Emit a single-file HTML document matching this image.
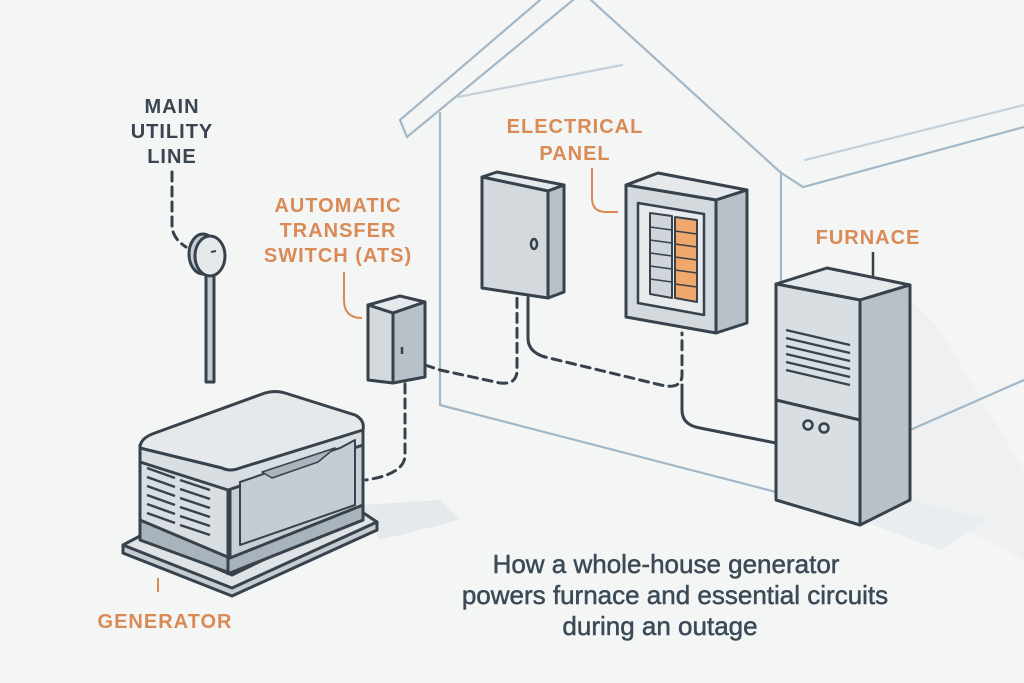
<!DOCTYPE html>
<html><head><meta charset="utf-8"><style>
html,body{margin:0;padding:0;background:#f4f5f5}
svg{display:block}
text{font-family:"Liberation Sans",sans-serif;font-weight:bold}
</style></head><body>
<svg width="1024" height="683" viewBox="0 0 1024 683" xmlns="http://www.w3.org/2000/svg">
<rect width="1024" height="683" fill="#f4f5f5"/>
<!-- shadows -->
<polygon points="360,505 440,500 460,520 380,540" fill="#e6e9ec"/>
<polygon points="910,300 940,330 1024,470 1024,560 910,500" fill="#eef0f1"/>
<polygon points="860,520 910,500 990,520 940,550" fill="#eaedef"/>
<!-- house -->
<g stroke="#a3b8c7" stroke-width="2.2" fill="none" stroke-linecap="round">
<polyline points="400,120 540,0"/>
<polyline points="400,120 407,137 573,0"/>
<polyline points="591,0 780,172 803,187 1024,127"/>
<line x1="805" y1="160" x2="1024" y2="105" stroke="#c3d1db"/>
<line x1="458" y1="97" x2="622" y2="65" stroke="#c3d1db"/>
<line x1="440" y1="113" x2="440" y2="405"/>
<line x1="440" y1="405" x2="776" y2="492"/>
<line x1="781" y1="172" x2="781" y2="282"/>
<line x1="910" y1="430" x2="1024" y2="380"/>
</g>
<!-- labels -->
<g fill="#3a4550" font-size="20" text-anchor="middle" letter-spacing="1">
<text x="172" y="113">MAIN</text><text x="172" y="138">UTILITY</text><text x="172" y="163">LINE</text>
</g>
<g fill="#d98a55" font-size="20" text-anchor="middle" letter-spacing="1">
<text x="338" y="212">AUTOMATIC</text><text x="338" y="237">TRANSFER</text><text x="338" y="262">SWITCH (ATS)</text>
<text x="575" y="133">ELECTRICAL</text><text x="575" y="160">PANEL</text>
<text x="868" y="244">FURNACE</text>
<text x="165" y="628">GENERATOR</text>
</g>
<g fill="#3b4a56" font-size="26" text-anchor="middle" stroke="#3b4a56" stroke-width="0.5">
<text x="666" y="573" style="font-weight:normal">How a whole-house generator</text>
<text x="675" y="604" style="font-weight:normal">powers furnace and essential circuits</text>
<text x="660" y="635" style="font-weight:normal">during an outage</text>
</g>
<!-- orange leaders -->
<g stroke="#d98a55" stroke-width="2" fill="none">
<path d="M344,272 V300 Q344,318 362,318"/>
<path d="M592,168 V198 Q592,212 606,212 H618"/>
<line x1="158" y1="578" x2="158" y2="592"/>
</g>
<line x1="873" y1="252" x2="873" y2="276" stroke="#37424c" stroke-width="2.5"/>
<!-- wires -->
<g stroke="#37424c" stroke-width="3" fill="none" stroke-linecap="round">
<path d="M172,172 V225 Q172,238 186,247" stroke-dasharray="9,6"/>
<path d="M405,384 V455 Q405,474 366,480" stroke-dasharray="9,6"/>
<path d="M425,365 L440,370 L500,383 Q517,385 517,370 V298" stroke-dasharray="9,6"/>
<path d="M528,298 V338 Q528,352 545,357 L665,386 Q682,388 682,375 V333" stroke-dasharray="9,6"/>
<path d="M528,298 V338 Q528,352 545,357" />
<path d="M682,385 V410 Q682,425 700,428 L776,443"/>
</g>
<!-- meter -->
<g stroke="#37424c" stroke-width="3" stroke-linejoin="round">
<rect x="206" y="268" width="8" height="114" fill="#c5ccd2"/>
<ellipse cx="203" cy="254" rx="14" ry="20" fill="#c5ccd2"/>
<ellipse cx="210" cy="256" rx="15" ry="20" fill="#e6e9ec"/>
<line x1="211" y1="252" x2="216" y2="251" stroke-width="2"/>
</g>
<!-- ATS -->
<g stroke="#37424c" stroke-width="3" stroke-linejoin="round">
<polygon points="368,305 400,296 425,302 393,313" fill="#e6e9ec"/>
<polygon points="368,305 393,313 393,383 368,380" fill="#d4d9dd"/>
<polygon points="393,313 425,302 425,377 393,383" fill="#b8c1c8"/>
<line x1="402" y1="347" x2="402" y2="354" stroke-width="2.5"/>
</g>
<!-- disconnect box -->
<g stroke="#37424c" stroke-width="3" stroke-linejoin="round">
<polygon points="482,177 497,172 564,185 548,191" fill="#e6e9ec"/>
<polygon points="482,177 548,191 548,298 482,288" fill="#d4d9dd"/>
<polygon points="548,191 564,185 564,292 548,298" fill="#b8c1c8"/>
<ellipse cx="534" cy="244" rx="3" ry="5" fill="none" stroke-width="2.5"/>
</g>
<!-- panel -->
<g stroke="#37424c" stroke-width="3" stroke-linejoin="round">
<polygon points="626,185 658,173 747,190 716,200" fill="#e6e9ec"/>
<polygon points="626,185 716,200 716,333 626,317" fill="#d4d9dd"/>
<polygon points="716,200 747,190 747,323 716,333" fill="#b8c1c8"/>
<polygon points="638,203 704,214 704,315 638,303" fill="#e8ebed" stroke-width="2.5"/>
<polygon points="650,213 672,216 672,298 650,294" fill="#cfd5da" stroke-width="2"/>
<polygon points="675,217 697,220 697,302 675,298" fill="#f0a86c" stroke-width="2"/>
</g>
<g stroke="#37424c" stroke-width="1.6">
<line x1="650" y1="227" x2="672" y2="230"/><line x1="650" y1="240" x2="672" y2="243"/><line x1="650" y1="253" x2="672" y2="256"/><line x1="650" y1="266" x2="672" y2="269"/><line x1="650" y1="279" x2="672" y2="282"/>
<line x1="675" y1="231" x2="697" y2="234"/><line x1="675" y1="244" x2="697" y2="247"/><line x1="675" y1="257" x2="697" y2="260"/><line x1="675" y1="270" x2="697" y2="273"/><line x1="675" y1="284" x2="697" y2="287"/>
</g>
<!-- furnace -->
<g stroke="#37424c" stroke-width="3" stroke-linejoin="round">
<polygon points="776,284 827,268 910,285 860,300" fill="#e6e9ec"/>
<polygon points="776,284 860,300 860,525 776,500" fill="#d9dee2"/>
<polygon points="860,300 910,285 910,500 860,525" fill="#b8c1c8"/>
<line x1="776" y1="400" x2="860" y2="420"/>
<circle cx="808" cy="425" r="4.5" fill="none" stroke-width="2.5"/>
<circle cx="824" cy="428" r="4.5" fill="none" stroke-width="2.5"/>
</g>
<g stroke="#37424c" stroke-width="2.2">
<line x1="786" y1="330" x2="850" y2="345"/><line x1="786" y1="338" x2="850" y2="353"/><line x1="786" y1="346" x2="850" y2="361"/><line x1="786" y1="354" x2="850" y2="369"/><line x1="786" y1="362" x2="850" y2="377"/><line x1="786" y1="370" x2="850" y2="385"/>
</g>
<!-- generator -->
<g stroke="#37424c" stroke-width="3" stroke-linejoin="round">
<polygon points="123,545 140,536 232,575 362,512 377,522 377,530 232,594 123,553" fill="#dfe3e6"/>
<polygon points="123,545 232,588 377,522 377,530 232,596 123,553" fill="#c5ccd2"/>
<polygon points="140,445 140,535 230,573 230,470" fill="#d9dee2"/>
<polygon points="230,470 363,425 363,520 230,573" fill="#c8cfd5"/>
<polygon points="140,540 140,520 230,558 363,505 363,520 230,573" fill="#a9b3bb"/>
<path d="M140,448 L140,462 L228,490 L363,445 L363,430" fill="#d9dee2"/>
<path d="M140,448 Q140,438 155,433 L265,393 Q275,390 285,393 L355,415 Q365,420 363,430 L240,468 Q230,472 222,468 Z" fill="#e6e9ec"/>
<line x1="228" y1="490" x2="228" y2="575"/>
<polygon points="240,482 340,448 355,440 355,505 240,545" fill="#c5ccd2" stroke-width="2"/>
<polygon points="262,472 335,448 318,462 272,478" fill="#aab4bc" stroke-width="1.5"/>
</g>
<g stroke="#37424c" stroke-width="2.5">
<line x1="147" y1="468" x2="175" y2="478"/><line x1="180" y1="480" x2="210" y2="490"/>
<line x1="147" y1="477" x2="175" y2="487"/><line x1="180" y1="489" x2="210" y2="499"/>
<line x1="147" y1="486" x2="175" y2="496"/><line x1="180" y1="498" x2="210" y2="508"/>
<line x1="147" y1="495" x2="175" y2="505"/><line x1="180" y1="507" x2="210" y2="517"/>
<line x1="147" y1="504" x2="175" y2="514"/><line x1="180" y1="516" x2="210" y2="526"/>
<line x1="147" y1="513" x2="175" y2="523"/><line x1="180" y1="525" x2="210" y2="535"/>
</g>
</svg>
</body></html>
